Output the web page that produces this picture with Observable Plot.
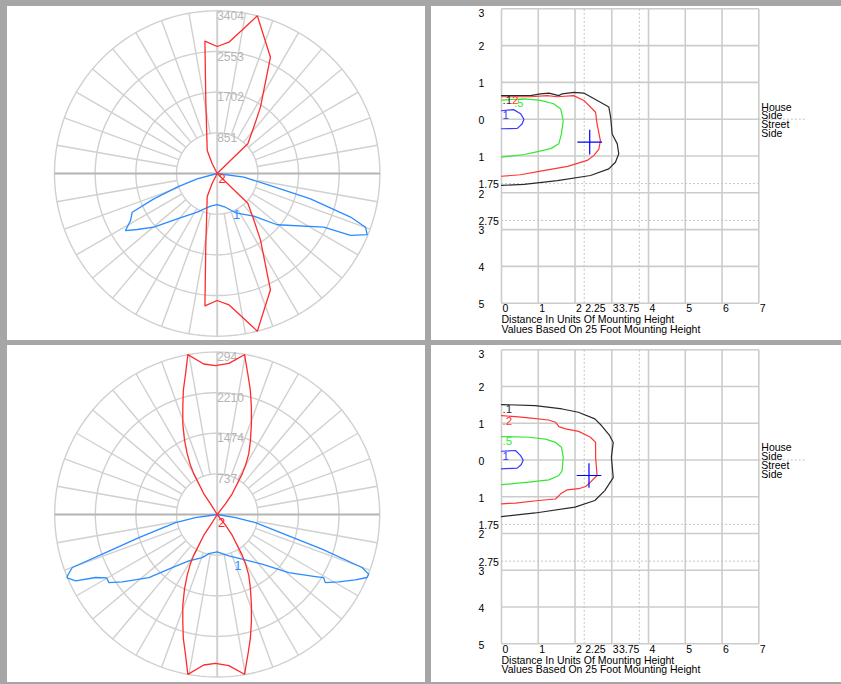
<!DOCTYPE html>
<html><head><meta charset="utf-8">
<script src="https://cdn.jsdelivr.net/npm/d3@7"></script>
<script src="https://cdn.jsdelivr.net/npm/@observablehq/plot@0.6"></script>
<style>
body{margin:0;background:#fff;}
#wrap{position:relative;width:841px;height:684px;background:#a6a6a6;overflow:hidden;}
.panel{position:absolute;background:#fff;overflow:hidden;}
.panel svg{display:block;max-width:none!important;}
</style></head><body><div id="wrap"></div>
<script>
// ---------- Polar candela plots (angle: degrees clockwise from straight up; value: candela) ----------
const tlRingVals = [851, 1702, 2553, 3404];
const tlRingLabels = ["851", "1702", "2553", "3404"];
const blRingVals = [737, 1474, 2210, 2947];
const blRingLabels = ["737", "1474", "2210", "294"];

// top-left, curve "2" (red)
const tlRedAng = [0, 45.5, 45.9, 38.3, 33.1, 24.6, 14.3, 5.1, 0, 354.7, 351.1, 336.5, 332.7, 0,
                  207.3, 203.5, 188.9, 185.3, 180, 174.9, 165.7, 155.4, 146.9, 141.7, 134.1, 134.5, 0];
const tlRedCd  = [0, 487, 892, 1234, 1657, 2676, 3404, 2758, 2657, 2780, 1545, 524, 228, 0,
                  228, 524, 1545, 2780, 2657, 2758, 3404, 2676, 1657, 1234, 892, 487, 0];
// top-left, curve "1" (blue)
const tlBlueAng = [90, 97.9, 102.7, 105.2, 108.1, 109.9, 112.2, 114.9, 116.7, 130.5, 139.4, 155, 166.2, 180,
                   191.6, 207.3, 221.4, 229.7, 235, 238.1, 241.5, 245.5, 248.2, 251.1, 255.2, 270];
const tlBlueCd  = [0, 562, 1143, 2023, 2935, 3300, 3390, 3075, 2497, 1651, 1177, 907, 726, 649,
                   698, 911, 1264, 1738, 2043, 2259, 2063, 1954, 1428, 885, 433, 0];
// bottom-left, curve "2" (red)
const blRedAng = [0, 37.8, 35.9, 33.1, 31.6, 30, 27.5, 24.2, 20.7, 17.7, 15, 12.3, 9.7, 4.4, 359.35, 354.9,
                  349.6, 347.3, 344.7, 342.2, 339.2, 336.2, 333.7, 331.4, 330.1, 329.1, 327.1, 328, 0,
                  212, 212.9, 210.9, 209.9, 208.6, 206.3, 203.8, 200.8, 197.8, 195.3, 192.7, 190.4,
                  185.1, 180.65, 175.6, 170.3, 167.7, 165, 162.3, 159.3, 155.8, 152.5, 150, 148.4, 146.9, 144.1, 142.2, 0];
const blRedCd  = [0, 245, 463, 663, 865, 1025, 1239, 1469, 1757, 2040, 2325, 2608, 2940, 2748, 2699, 2740,
                  2947, 2612, 2329, 2041, 1757, 1465, 1226, 1011, 850, 648, 447, 228, 0,
                  228, 447, 648, 850, 1011, 1226, 1465, 1757, 2041, 2329, 2612, 2947,
                  2740, 2699, 2748, 2940, 2608, 2325, 2040, 1757, 1469, 1239, 1025, 865, 663, 463, 245, 0];
// bottom-left, curve "1" (blue)
const blBlueAng = [90, 99.9, 102.1, 106.7, 108.3, 110.1, 111.5, 112.8, 115.3, 119, 122.2, 120.7, 122.3, 129.1, 137.9, 150.8, 164.4, 180,
                   192.1, 199.1, 211.4, 220.2, 227.3, 234.6, 237.8, 240.2, 242.6, 244.9, 247.1, 247.7, 249.9, 251.1, 253.5, 258.9, 261.6, 270];
const blBlueCd  = [0, 337, 710, 1354, 2003, 2798, 2952, 2948, 2771, 2519, 2318, 2244, 2106, 1671, 1215, 929, 780, 679,
                   726, 828, 987, 1262, 1686, 2110, 2320, 2311, 2483, 2834, 2954, 2936, 2798, 2137, 1481, 770, 397, 0];
// curve label anchors [text, x candela, y candela]
const tlCurveLabels = [["2", 105, -115], ["1", 404, -858]];
const blCurveLabels = [["2", 78, -148], ["1", 373, -933]];

// ---------- Isofootcandle plots (x: distance, y: + street side / - house side, mounting heights) ----------
const isoLevels = [".1", ".2", ".5", "1"];
const trBlack = [[0,-0.64],[0.79,-0.64],[1.06,-0.69],[1.29,-0.71],[1.56,-0.64],[1.65,-0.69],[1.97,-0.73],[2.24,-0.71],[2.69,-0.46],[2.92,-0.33],[2.97,-0.05],[3.01,0.40],[3.15,0.67],[3.19,0.94],[3.10,1.17],[2.92,1.35],[2.42,1.53],[1.52,1.67],[0.61,1.77],[0,1.80]];
const trRed   = [[0,-0.61],[0.79,-0.61],[1.24,-0.64],[1.52,-0.61],[1.96,-0.64],[2.24,-0.51],[2.56,-0.19],[2.60,0.13],[2.69,0.58],[2.65,0.81],[2.51,0.99],[2.33,1.12],[1.80,1.28],[1.06,1.41],[0.52,1.51],[0,1.55]];
const trGreen = [[0,-0.52],[0.62,-0.55],[1.06,-0.51],[1.42,-0.42],[1.61,-0.28],[1.68,0.04],[1.63,0.40],[1.56,0.67],[1.34,0.80],[0.89,0.90],[0.62,0.96],[0,1.03]];
const trBlue  = [[0,-0.23],[0.33,-0.26],[0.52,-0.15],[0.61,0.0],[0.56,0.13],[0.43,0.25],[0,0.26]];
const brBlack = [[0,-1.51],[0.92,-1.48],[1.65,-1.39],[2.09,-1.30],[2.54,-1.12],[2.72,-0.94],[2.94,-0.67],[3.04,-0.48],[2.99,-0.08],[3.04,0.48],[2.81,0.83],[2.54,1.10],[2.00,1.28],[0.92,1.44],[0,1.54]];
const brRed   = [[0,-1.21],[0.38,-1.18],[0.74,-1.15],[1.28,-1.09],[1.47,-1.03],[1.56,-0.91],[1.74,-0.85],[2.10,-0.78],[2.42,-0.62],[2.56,-0.48],[2.56,-0.08],[2.60,0.42],[2.42,0.60],[2.29,0.72],[2.10,0.78],[1.79,0.81],[1.61,0.92],[1.47,1.06],[1.01,1.10],[0.38,1.17],[0,1.19]];
const brGreen = [[0,-0.64],[0.74,-0.62],[1.20,-0.57],[1.47,-0.48],[1.63,-0.35],[1.68,-0.08],[1.65,0.29],[1.56,0.42],[1.29,0.54],[0.74,0.60],[0,0.67]];
const brBlue  = [[0,-0.24],[0.38,-0.26],[0.52,-0.12],[0.59,0.0],[0.54,0.12],[0.43,0.22],[0,0.24]];
const trLabelPos = [[0,-0.51],[0.17,-0.51],[0.31,-0.42],[0,-0.10]];
const brLabelPos = [[0,-1.37],[0,-1.05],[0,-0.50],[0,-0.10]];
const trMax = [2.40, 0.625];
const brMax = [2.38, 0.42];

const gridXVals = [0,1,2,3,4,5,6,7];
const gridYVals = [-3,-2,-1,0,1,2,3,4,5];
const dashXVals = [2.25, 3.75];
const dashYVals = [1.75, 2.75];
const xTickVals = [0,1,2,2.25,3,3.75,4,5,6,7];
const xTickText = ["0","1","2","2.25","3","3.75","4","5","6","7"];
const yTickVals = [-3,-2,-1,0,1,1.75,2,2.75,3,4,5];
const yTickText = ["3","2","1","0","1","1.75","2","2.75","3","4","5"];
const sideText = ["House","Side","Street","Side"];
const captionText = ["Distance In Units Of Mounting Height", "Values Based On 25 Foot Mounting Height"];

// ---------- drawing ----------
const NARROW = '"Liberation Sans Narrow","Arial Narrow","Liberation Sans",Arial,sans-serif';
const SANS = '"Liberation Sans",Arial,sans-serif';
const FS = 10.5;
const RAD = Math.PI / 180;
const wrap = document.getElementById("wrap");
function panel(left, top, w, h) {
  const d = document.createElement("div");
  d.className = "panel";
  Object.assign(d.style, {left: left + "px", top: top + "px", width: w + "px", height: h + "px"});
  wrap.appendChild(d);
  return d;
}
const toXY = (ang, cd) => ang.map((a, i) => ({x: cd[i] * Math.sin(a * RAD), y: cd[i] * Math.cos(a * RAD)}));

function polar(el, o) {
  const max = o.rings[o.rings.length - 1];
  const ringLines = o.rings.flatMap((r, i) => d3.range(0, 361, 2).map(a => ({ring: i, x: r * Math.sin(a * RAD), y: r * Math.cos(a * RAD)})));
  const spokes = d3.range(10, 360, 10).filter(a => a % 90 !== 0);
  const r0 = o.rings[0];
  const red = toXY(o.redAng, o.redCd), blue = toXY(o.blueAng, o.blueCd);
  el.appendChild(Plot.plot({
    width: o.w, height: o.h, margin: 0,
    style: {background: "transparent"},
    x: {domain: [-max, max], range: [o.cx - o.R, o.cx + o.R], axis: null},
    y: {domain: [-max, max], range: [o.cy + o.R, o.cy - o.R], axis: null},
    marks: [
      Plot.line(ringLines, {x: "x", y: "y", z: "ring", stroke: "#d0d0d0", strokeWidth: 1.4}),
      Plot.link(spokes, {x1: a => r0 * Math.sin(a * RAD), y1: a => r0 * Math.cos(a * RAD),
                         x2: a => max * Math.sin(a * RAD), y2: a => max * Math.cos(a * RAD), stroke: "#d0d0d0", strokeWidth: 1.4}),
      Plot.link([0], {x1: () => 0, x2: () => 0, y1: () => -max, y2: () => max, stroke: "#d0d0d0", strokeWidth: 2}),
      Plot.link([0], {x1: () => -max, x2: () => max, y1: () => 0, y2: () => 0, stroke: "#b4b4b4", strokeWidth: 2}),
      Plot.text(o.rings, {x: () => 0, y: d => d, text: (d, i) => o.ringLabels[i], textAnchor: "start", lineAnchor: "top",
                          dy: 0.5, fill: "#b4b4b4", fontSize: 12, fontFamily: SANS}),
      Plot.line(blue, {x: "x", y: "y", stroke: "#2a8cff", strokeWidth: 1.3}),
      Plot.line(red, {x: "x", y: "y", stroke: "#ff2a2a", strokeWidth: 1.3}),
      Plot.text(o.curveLabels, {x: d => d[1], y: d => d[2], text: d => d[0], fill: (d) => d[0] === "2" ? "#ff2a2a" : "#2a8cff",
                                fontSize: 13, fontFamily: SANS})
    ]
  }));
}

const isoColors = ["#2a2a2a", "#ff3535", "#33e833", "#3a3aff"];
function iso(el, o) {
  const contours = [o.black, o.red, o.green, o.blue];
  const marks = [
    Plot.link(gridXVals, {x1: d => d, x2: d => d, y1: () => -3, y2: () => 5, stroke: "#cccccc", strokeWidth: 1.6}),
    Plot.link(gridYVals, {y1: d => d, y2: d => d, x1: () => 0, x2: () => 7, stroke: "#cccccc", strokeWidth: 1.6}),
    Plot.link(dashXVals, {x1: d => d, x2: d => d, y1: () => -3, y2: () => 5, stroke: "#c4c4c4", strokeWidth: 1, strokeDasharray: "2,2"}),
    Plot.link(dashYVals, {y1: d => d, y2: d => d, x1: () => -0.12, x2: () => 7, stroke: "#c4c4c4", strokeWidth: 1, strokeDasharray: "2,2"}),
    Plot.link([0], {y1: () => 0, y2: () => 0, x1: () => 7, x2: () => 8.28, stroke: "#c4c4c4", strokeWidth: 1, strokeDasharray: "2,2"})
  ];
  contours.forEach((c, i) => marks.push(Plot.line(c, {x: d => d[0], y: d => d[1], stroke: isoColors[i], strokeWidth: 1.2})));
  [2, 0, 1, 3].forEach(i => marks.push(Plot.text([o.labelPos[i]], {x: d => d[0], y: d => d[1], text: () => isoLevels[i],
      fill: isoColors[i], fontSize: 11.5, fontFamily: NARROW, textAnchor: "start", dx: 1})));
  marks.push(Plot.dot([o.max], {x: d => d[0], y: d => d[1], symbol: "plus", r: 8, stroke: "#0000ff", strokeWidth: 1.2}));
  // tick labels
  marks.push(Plot.text(yTickVals.slice(1), {x: () => 0, y: d => d, text: (d, i) => yTickText[i + 1], dx: -23, dy: 1.5,
      textAnchor: "start", fill: "#000", fontSize: FS, fontFamily: NARROW}));
  marks.push(Plot.text(yTickVals.slice(0, 1), {x: () => 0, y: d => d, text: () => yTickText[0], dx: -23, dy: 5,
      textAnchor: "start", fill: "#000", fontSize: FS, fontFamily: NARROW}));
  marks.push(Plot.text(xTickVals.filter(v => v !== 3.75), {x: d => d, y: () => 5, text: d => xTickText[xTickVals.indexOf(d)],
      dx: 1, dy: 5.8, textAnchor: "start", fill: "#000", fontSize: FS, fontFamily: NARROW}));
  marks.push(Plot.text([3.75], {x: d => d, y: () => 5, text: d => xTickText[xTickVals.indexOf(d)],
      dx: 0, dy: 5.8, textAnchor: "end", fill: "#000", fontSize: FS, fontFamily: NARROW}));
  captionText.forEach((t, i) => marks.push(Plot.text([t], {x: () => 0, y: () => 5, text: d => d, dy: 16.6 + 9.4 * i,
      textAnchor: "start", fill: "#000", fontSize: FS, fontFamily: NARROW})));
  sideText.forEach((t, i) => marks.push(Plot.text([t], {x: () => 7, y: () => 0, text: d => d, dx: 2.5, dy: -12 + 8.9 * i,
      textAnchor: "start", fill: "#000", fontSize: FS, fontFamily: NARROW})));
  el.appendChild(Plot.plot({
    width: o.w, height: o.h, margin: 0,
    style: {background: "transparent"},
    x: {domain: [0, 7], range: [70, 327.3], axis: null},
    y: {domain: [-3, 5], range: [o.y0, o.y1], axis: null},
    marks
  }));
}

polar(panel(7, 6, 418, 334), {w: 418, h: 334, cx: 209.7, cy: 167, R: 162.7, rings: tlRingVals, ringLabels: tlRingLabels,
  redAng: tlRedAng, redCd: tlRedCd, blueAng: tlBlueAng, blueCd: tlBlueCd, curveLabels: tlCurveLabels});
polar(panel(7, 345, 418, 337), {w: 418, h: 337, cx: 209.7, cy: 169, R: 162.5, rings: blRingVals, ringLabels: blRingLabels,
  redAng: blRedAng, redCd: blRedCd, blueAng: blBlueAng, blueCd: blBlueCd, curveLabels: blCurveLabels});
iso(panel(431, 6, 410, 334), {w: 410, h: 334, y0: 2.3, y1: 296.7, black: trBlack, red: trRed, green: trGreen, blue: trBlue,
  labelPos: trLabelPos, max: trMax});
iso(panel(431, 345, 410, 337), {w: 410, h: 337, y0: 4.3, y1: 298.3, black: brBlack, red: brRed, green: brGreen, blue: brBlue,
  labelPos: brLabelPos, max: brMax});
</script>
</body></html>
